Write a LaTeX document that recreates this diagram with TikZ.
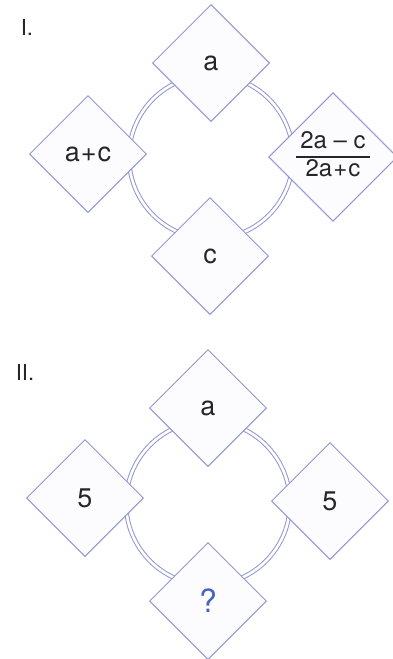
\documentclass[tikz,border=0pt]{standalone}
\usepackage{fontspec}
\setmainfont{TeX Gyre Heros}
\usetikzlibrary{shapes.geometric}
\definecolor{lav}{RGB}{146,152,210}
\definecolor{txt}{RGB}{38,38,42}
\definecolor{qblue}{RGB}{70,100,190}
\definecolor{dfill}{RGB}{252,252,255}
\begin{document}
\begin{tikzpicture}[x=1pt,y=-1pt,
  dia/.style={diamond, draw=lav, line width=1pt, fill=dfill, minimum width=117pt, minimum height=117pt, inner sep=0pt, font=\fontsize{27}{30}\selectfont, text=txt},
  ring/.style={circle, draw=lav, line width=1pt, double=white, double distance=2.6pt, minimum size=164pt, inner sep=0pt},
  lbl/.style={font=\fontsize{22}{24}\selectfont, text=txt}]
\useasboundingbox[fill=white] (0,0) rectangle (392,659);
% ---------- I ----------
\node[lbl] (L1) at (27,27) {I.};
\node[ring] (c1) at (211,157) {};
\node[dia] (t1) at (211,63) {a};
\node[dia] (l1) at (88,154) {a\kern1pt+\kern1pt c};
\node[dia] (b1) at (210,256) {c};
\node[dia, font=\fontsize{24}{27}\selectfont] (r1) at (333,157) {\setlength{\arrayrulewidth}{1.3pt}\renewcommand{\arraystretch}{1.0}\begin{tabular}{@{\hspace{4pt}}c@{\hspace{4pt}}}2a – c\\\hline 2a\kern1pt+\kern1pt c\end{tabular}};
% ---------- II ----------
\node[lbl] (L2) at (25,372) {II.};
\node[ring] (c2) at (208,503) {};
\node[dia] (t2) at (208,408) {a};
\node[dia] (l2) at (85,498) {5};
\node[dia] (r2) at (330,501) {5};
\node[dia, text=qblue, font=\fontsize{32}{34}\selectfont] (b2) at (208,601) {?};
\end{tikzpicture}
\end{document}
